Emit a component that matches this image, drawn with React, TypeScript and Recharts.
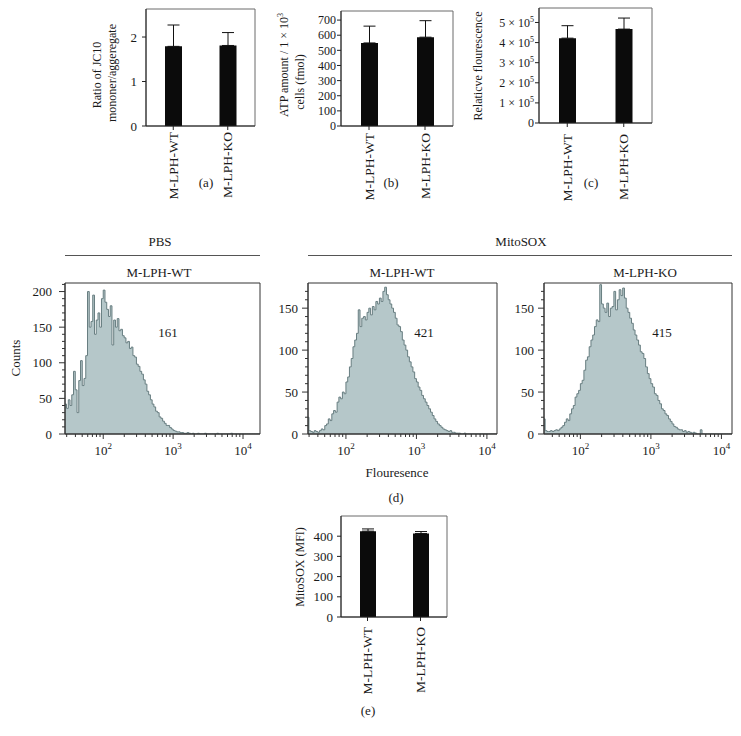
import React from 'react';
import { BarChart, Bar, XAxis, YAxis, ErrorBar, AreaChart, Area, ReferenceArea } from 'recharts';

const FONT = '"Liberation Serif", "Times New Roman", serif';
const TEXT = '#1a1a1a';
const AXIS = '#222';
const FRAME = '#6a6a6a';

// ---------- bar panels ----------
const groups = ['M-LPH-WT', 'M-LPH-KO'];
const jc10Ratio = [1.79, 1.81];
const jc10Err = [0.48, 0.29];
const atpAmount = [549, 587];
const atpErr = [111, 109];
const relFluor = [422000, 467000];
const relFluorErr = [62000, 55000];
const mitoSoxMfi = [425, 413];
const mitoSoxErr = [11, 10];

const jc10Ticks = [0, 1, 2];
const atpTicks = [0, 100, 200, 300, 400, 500, 600, 700];
const relFluorTicks = [0, 100000, 200000, 300000, 400000, 500000];
const mfiTicks = [0, 100, 200, 300, 400];

// ---------- flow cytometry histograms (counts per log10 bin) ----------
const histBinStart = 1.45;
const histBinStep = 0.025;
const pbsWtCounts = [
  42, 36, 48, 40, 55, 88, 62, 30, 75, 103, 68, 78, 110, 200, 150, 158, 195, 140, 160, 170,
  150, 190, 202, 185, 175, 165, 180, 125, 160, 150, 162, 145, 147, 138, 135, 128, 130, 120, 122, 110,
  108, 98, 95, 88, 84, 76, 70, 60, 55, 48, 42, 38, 32, 30, 24, 22, 18, 15, 12, 12,
  9, 7, 5, 4, 3, 3, 2, 2, 1, 1, 2, 1, 0, 1, 0, 0, 1, 0, 0, 0,
  1, 0, 0, 0, 0, 0, 0, 1, 0, 0, 0, 0, 0, 0, 0, 1, 0, 0, 0, 0,
  0, 0, 0, 0, 0, 0, 0, 0, 0, 0, 0, 0, 0,
];
const soxWtCounts = [
  20, 4, 3, 2, 4, 3, 2, 4, 6, 5, 10, 12, 18, 16, 24, 28, 26, 38, 44, 42,
  50, 48, 62, 68, 80, 90, 104, 112, 120, 148, 128, 138, 140, 136, 145, 150, 142, 152, 148, 158,
  155, 162, 158, 170, 175, 166, 160, 155, 150, 145, 138, 130, 128, 122, 112, 106, 100, 92, 86, 80,
  74, 66, 62, 56, 52, 46, 42, 38, 34, 30, 26, 22, 18, 15, 12, 10, 8, 6, 5, 4,
  3, 4, 2, 2, 1, 1, 1, 0, 0, 1, 0, 0, 0, 0, 0, 0, 0, 0, 0, 0,
  0, 0, 0, 0, 0, 0, 0, 0, 0, 0,
];
const soxKoCounts = [
  18, 18, 4, 3, 3, 4, 3, 4, 5, 4, 6, 8, 10, 14, 18, 16, 24, 30, 34, 44,
  48, 52, 60, 64, 76, 88, 92, 104, 112, 118, 128, 136, 134, 178, 155, 150, 145, 156, 140, 150,
  152, 170, 148, 160, 172, 165, 174, 162, 150, 145, 138, 132, 124, 118, 112, 106, 98, 96, 90, 80,
  72, 66, 60, 56, 48, 46, 40, 36, 30, 28, 24, 22, 18, 15, 12, 9, 8, 6, 5, 5,
  3, 4, 2, 3, 2, 1, 2, 1, 0, 0, 5, 0, 0, 0, 0, 0, 0, 0, 0, 0,
  0, 0, 0, 0, 0, 0, 0, 0, 0, 0,
];
const fluorTickValues = [
  30, 40, 50, 60, 70, 80, 90,
  100, 200, 300, 400, 500, 600, 700, 800, 900,
  1000, 2000, 3000, 4000, 5000, 6000, 7000, 8000, 9000,
  10000,
];
const fluorMajor = [100, 1000, 10000];
const countTicksPbs = [0, 10, 20, 30, 40, 50, 60, 70, 80, 90, 100, 110, 120, 130, 140, 150, 160, 170, 180, 190, 200, 210];
const countTicksSox = [0, 10, 20, 30, 40, 50, 60, 70, 80, 90, 100, 110, 120, 130, 140, 150, 160, 170];

const barData = (vals: number[], errs: number[]) =>
  groups.map((name, i) => ({ name, value: vals[i], err: [0, errs[i]] }));

const Txt = ({ x, y, size = 13, rotate = false, children }: any) => (
  <div
    style={{
      position: 'absolute', left: x, top: y,
      transform: `translate(-50%, -50%)${rotate ? ' rotate(-90deg)' : ''}`,
      fontFamily: FONT, fontSize: size, color: TEXT, whiteSpace: 'nowrap', lineHeight: 1,
    }}
  >
    {children}
  </div>
);

const HLine = ({ x1, x2, y }: any) => (
  <div style={{ position: 'absolute', left: x1, top: y, width: x2 - x1, height: 0, borderTop: '1px solid #555' }} />
);

const makeCatTick = (gap: number) => (props: any) => {
  const { x, y, payload } = props;
  const yy = y + gap;
  return (
    <text x={x} y={yy} transform={`rotate(-90, ${x}, ${yy})`} textAnchor="end" dy="0.35em"
      fontFamily={FONT} fontSize={13.5} fill={TEXT}>
      {payload.value}
    </text>
  );
};

const makeNumTick = (size: number) => (props: any) => {
  const { x, y, payload } = props;
  return (
    <text x={x} y={y} dy="0.35em" textAnchor="end" fontFamily={FONT} fontSize={size} fill={TEXT}>
      {payload.value}
    </text>
  );
};

const SciTick = (props: any) => {
  const { x, y, payload } = props;
  const v = payload.value;
  if (v === 0) {
    return <text x={x} y={y} dy="0.35em" textAnchor="end" fontFamily={FONT} fontSize={12} fill={TEXT}>0</text>;
  }
  return (
    <text x={x} y={y} dy="0.35em" textAnchor="end" fontFamily={FONT} fontSize={12} fill={TEXT}>
      {`${Math.round(v / 100000)} × 10`}
      <tspan dy={-5} fontSize={8}>5</tspan>
    </text>
  );
};

function BarPanel({ left, top, width, height, data, domain, ticks, yAxisWidth, margin, xAxisHeight,
  yTick, tickMargin, catGap, barSize }: any) {
  return (
    <div style={{ position: 'absolute', left, top }}>
      <BarChart width={width} height={height} data={data} margin={margin}>
        <XAxis dataKey="name" height={xAxisHeight} interval={0} tickSize={4} tickMargin={0}
          axisLine={{ stroke: AXIS }} tickLine={{ stroke: AXIS }} tick={makeCatTick(catGap)} />
        <YAxis type="number" domain={domain} ticks={ticks} interval={0} allowDataOverflow width={yAxisWidth}
          tickSize={4} tickMargin={tickMargin} axisLine={{ stroke: AXIS }} tickLine={{ stroke: AXIS }} tick={yTick} />
        <ReferenceArea y1={domain[0]} y2={domain[1]} fill="none" stroke={FRAME} strokeWidth={1} />
        <Bar dataKey="value" fill="#0b0b0b" barSize={barSize} isAnimationActive={false}>
          <ErrorBar dataKey="err" width={6} stroke="#111" strokeWidth={1} direction="y" />
        </Bar>
      </BarChart>
    </div>
  );
}

const HistXTick = (props: any) => {
  const { x, y, payload } = props;
  const raw = Math.round(Math.pow(10, payload.value));
  const major = fluorMajor.includes(raw);
  const exp = Math.round(payload.value);
  return (
    <g>
      <line x1={x} x2={x} y1={y} y2={y + (major ? 5 : 3)} stroke="#333" strokeWidth={1} />
      {major && (
        <text x={x} y={y + 21} textAnchor="middle" fontFamily={FONT} fontSize={13} fill={TEXT}>
          10<tspan dy={-6} fontSize={9}>{exp}</tspan>
        </text>
      )}
    </g>
  );
};

const makeHistYTick = (gap: number) => (props: any) => {
  const { x, y, payload } = props;
  const v = payload.value;
  const major = v % 50 === 0;
  return (
    <g>
      <line x1={x} x2={x - (major ? 6 : 3)} y1={y} y2={y} stroke="#333" strokeWidth={1} />
      {major && (
        <text x={x - gap} y={y} dy="0.35em" textAnchor="end" fontFamily={FONT} fontSize={13} fill={TEXT}>
          {v}
        </text>
      )}
    </g>
  );
};

function HistPanel({ left, top, width, height, yAxisWidth, margin, counts, xDomain, yMax, yTicks, labelGap }: any) {
  const data = counts.map((c: number, i: number) => ({ x: histBinStart + i * histBinStep, y: c }));
  const xt = fluorTickValues.map((t) => Math.log10(t)).filter((t) => t >= xDomain[0] && t <= xDomain[1]);
  return (
    <div style={{ position: 'absolute', left, top }}>
      <AreaChart width={width} height={height} data={data} margin={margin}>
        <XAxis type="number" dataKey="x" domain={xDomain} allowDataOverflow ticks={xt} interval={0}
          tickSize={0} tickMargin={0} tickLine={false} axisLine={{ stroke: '#333' }} height={40}
          tick={(p: any) => <HistXTick {...p} />} />
        <YAxis type="number" domain={[0, yMax]} allowDataOverflow ticks={yTicks} interval={0}
          tickSize={0} tickMargin={0} tickLine={false} width={yAxisWidth} axisLine={{ stroke: '#333' }}
          tick={makeHistYTick(labelGap)} />
        <Area type="stepAfter" dataKey="y" stroke="#687e81" strokeWidth={1} fill="#b5c7c9" fillOpacity={1}
          isAnimationActive={false} dot={false} activeDot={false} />
        <ReferenceArea y1={0} y2={yMax} fill="none" stroke="#333" strokeWidth={1} />
      </AreaChart>
    </div>
  );
}

export default function App() {
  return (
    <div style={{ position: 'absolute', left: 0, top: 0, width: 741, height: 736, background: '#fff', fontFamily: FONT }}>
      {/* (a) */}
      <BarPanel left={60} top={0} width={200} height={210} data={barData(jc10Ratio, jc10Err)}
        domain={[0, 2.63]} ticks={jc10Ticks} yAxisWidth={86} margin={{ top: 9, right: 5, bottom: 0, left: 0 }}
        xAxisHeight={84} yTick={makeNumTick(13)} tickMargin={5} catGap={2} barSize={17} />
      <Txt x={97} y={75} size={12} rotate>Ratio of JC10</Txt>
      <Txt x={112} y={73} size={12} rotate>mononer/aggeregate</Txt>
      <Txt x={206} y={182}>(a)</Txt>

      {/* (b) */}
      <BarPanel left={270} top={0} width={190} height={210} data={barData(atpAmount, atpErr)}
        domain={[0, 760]} ticks={atpTicks} yAxisWidth={71} margin={{ top: 11, right: 7, bottom: 0, left: 0 }}
        xAxisHeight={84} yTick={makeNumTick(12)} tickMargin={1} catGap={3} barSize={17} />
      <Txt x={283} y={65} size={12} rotate>ATP amount / 1 × 10<sup style={{ fontSize: 8 }}>3</sup></Txt>
      <Txt x={300} y={82} size={12} rotate>cells (fmol)</Txt>
      <Txt x={391} y={182}>(b)</Txt>

      {/* (c) */}
      <BarPanel left={450} top={0} width={210} height={210} data={barData(relFluor, relFluorErr)}
        domain={[0, 572000]} ticks={relFluorTicks} yAxisWidth={89} margin={{ top: 8, right: 8, bottom: 0, left: 0 }}
        xAxisHeight={87} yTick={SciTick} tickMargin={1} catGap={7} barSize={17} />
      <Txt x={478} y={66} size={12} rotate>Relaticve flourescence</Txt>
      <Txt x={591} y={182}>(c)</Txt>

      {/* (d) headers */}
      <Txt x={160} y={241}>PBS</Txt>
      <HLine x1={65} x2={260} y={255} />
      <Txt x={521} y={241}>MitoSOX</Txt>
      <HLine x1={308} x2={732} y={255} />
      <Txt x={159} y={272}>M-LPH-WT</Txt>
      <Txt x={402} y={272}>M-LPH-WT</Txt>
      <Txt x={645} y={272}>M-LPH-KO</Txt>

      <HistPanel left={0} top={270} width={270} height={210} yAxisWidth={65}
        margin={{ top: 13, right: 10, bottom: 6, left: 0 }} counts={pbsWtCounts}
        xDomain={[1.453, 4.243]} yMax={212} yTicks={countTicksPbs} labelGap={13} />
      <HistPanel left={270} top={270} width={240} height={210} yAxisWidth={38}
        margin={{ top: 13, right: 13, bottom: 6, left: 0 }} counts={soxWtCounts}
        xDomain={[1.462, 4.143]} yMax={180} yTicks={countTicksSox} labelGap={10} />
      <HistPanel left={505} top={270} width={236} height={210} yAxisWidth={39}
        margin={{ top: 13, right: 9, bottom: 6, left: 0 }} counts={soxKoCounts}
        xDomain={[1.484, 4.15]} yMax={180} yTicks={countTicksSox} labelGap={10} />

      <Txt x={168} y={332}>161</Txt>
      <Txt x={424} y={332}>421</Txt>
      <Txt x={662} y={332}>415</Txt>
      <Txt x={15} y={358} rotate>Counts</Txt>
      <Txt x={397} y={472}>Flouresence</Txt>
      <Txt x={396} y={497}>(d)</Txt>

      {/* (e) */}
      <BarPanel left={200} top={500} width={260} height={200} data={barData(mitoSoxMfi, mitoSoxErr)}
        domain={[0, 500]} ticks={mfiTicks} yAxisWidth={141} margin={{ top: 16, right: 13, bottom: 0, left: 0 }}
        xAxisHeight={83} yTick={makeNumTick(13)} tickMargin={4} catGap={6} barSize={16} />
      <Txt x={300} y={567} size={12} rotate>MitoSOX (MFI)</Txt>
      <Txt x={368} y={710}>(e)</Txt>
    </div>
  );
}
